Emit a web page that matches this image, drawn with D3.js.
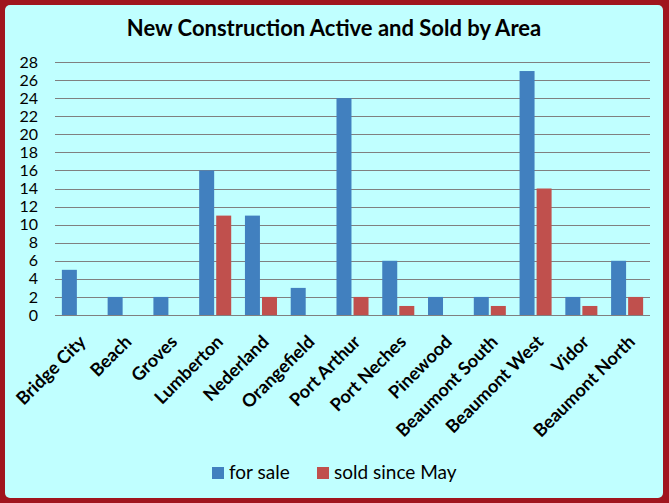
<html>
<head>
<script src="https://cdn.jsdelivr.net/npm/d3@7"></script>
<style>
  body { margin: 0; background: #fff; }
  text { font-family: Lato, "Open Sans", sans-serif; }
</style>
</head>
<body>
<script>
// chart data
const areas = ['Bridge City', 'Beach', 'Groves', 'Lumberton', 'Nederland', 'Orangefield',
  'Port Arthur', 'Port Neches', 'Pinewood', 'Beaumont South', 'Beaumont West', 'Vidor', 'Beaumont North'];
const forSale = [5, 2, 2, 16, 11, 3, 24, 6, 2, 2, 27, 2, 6];
const soldSinceMay = [0, 0, 0, 11, 2, 0, 2, 1, 0, 1, 14, 1, 2];
const seriesNames = ['for sale', 'sold since May'];
const seriesColors = ['#4180BF', '#C0504D'];
const yTicks = d3.range(0, 29, 2);

const W = 669, H = 503;
const margin = {top: 62, right: 19, bottom: 188, left: 55};
const width = W - margin.left - margin.right;
const height = H - margin.top - margin.bottom;

const svg = d3.select('body').append('svg')
    .attr('width', W)
    .attr('height', H);

// border + panel
svg.append('rect').attr('width', W).attr('height', H).attr('fill', '#A0151E');
svg.append('rect')
    .attr('x', 5).attr('y', 5)
    .attr('width', W - 11).attr('height', H - 10)
    .attr('rx', 5)
    .attr('fill', '#C0FFFF');

svg.append('text')
    .attr('x', 334).attr('y', 36)
    .attr('text-anchor', 'middle')
    .attr('font-size', 22)
    .attr('font-weight', 'bold')
    .text('New Construction Active and Sold by Area');

const main = svg.append('g')
    .attr('transform', 'translate(' + margin.left + ',' + margin.top + ')');

const x = d3.scaleBand().domain(areas).range([0, width]).paddingInner(0.3).paddingOuter(0.15);
const y = d3.scaleLinear().domain([0, 28]).range([height, 0]);
const xs = d3.scaleBand().domain([0, 1]).range([0, x.bandwidth()]).paddingInner(0.12);

// gridlines
main.append('g')
    .selectAll('line')
    .data(yTicks)
    .enter().append('line')
    .attr('x1', 0).attr('x2', width)
    .attr('y1', d => Math.round(y(d)) + 0.5)
    .attr('y2', d => Math.round(y(d)) + 0.5)
    .attr('stroke', '#808080')
    .attr('stroke-width', 1);

// y labels are tightly packed (9px apart), same as the original
const yAxis = d3.axisLeft(y).tickValues(yTicks).tickSize(0).tickPadding(17);
main.append('g')
    .call(yAxis)
    .call(g => g.select('.domain').remove())
    .call(g => g.selectAll('text').attr('font-size', 16).attr('fill', '#000')
        .style('font-family', 'Lato, sans-serif'));

// bars
const series = [forSale, soldSinceMay];
series.forEach((vals, si) => {
  main.append('g')
      .selectAll('rect')
      .data(vals)
      .enter().append('rect')
      .attr('x', (d, i) => x(areas[i]) + xs(si))
      .attr('y', d => y(d))
      .attr('width', xs.bandwidth())
      .attr('height', d => y(0) - y(d))
      .attr('fill', seriesColors[si]);
});

// category labels
const xAxis = d3.axisBottom(x).tickSize(0).tickPadding(0);
main.append('g')
    .attr('transform', 'translate(0,' + height + ')')
    .call(xAxis)
    .call(g => g.select('.domain').remove())
    .call(g => g.selectAll('text')
        .attr('font-size', 18)
        .attr('font-weight', 'bold')
        .attr('fill', '#000')
        .style('font-family', 'Lato, sans-serif')
        .attr('text-anchor', 'end')
        .attr('dy', 0)
        .attr('transform', 'translate(9,28) rotate(-45)'));

// legend
const legend = svg.append('g');
const legendX = [212, 317];
seriesNames.forEach((name, i) => {
  legend.append('rect')
      .attr('x', legendX[i]).attr('y', 467)
      .attr('width', 12).attr('height', 12)
      .attr('fill', seriesColors[i]);
  legend.append('text')
      .attr('x', legendX[i] + 17).attr('y', 479)
      .attr('font-size', 19)
      .text(name);
});
</script>
</body>
</html>
